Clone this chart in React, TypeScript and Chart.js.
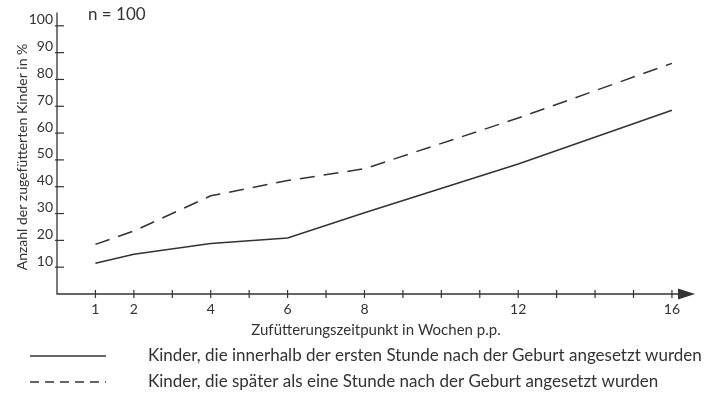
import React, { useEffect, useRef } from 'react';
import { Chart, registerables } from 'chart.js';
Chart.register(...registerables);

const weeks = [1, 2, 4, 6, 8, 12, 16];
const withinFirstHour = [11.5, 14.8, 18.8, 20.9, 30.3, 48.5, 68.5];
const laterThanFirstHour = [18.5, 23.5, 36.6, 42.3, 46.7, 65.6, 86];
const xTickLabels = [1, 2, 4, 6, 8, 12, 16];
const yTickLabels = [10, 20, 30, 40, 50, 60, 70, 80, 90, 100];
const seriesLabels = [
  'Kinder, die innerhalb der ersten Stunde nach der Geburt angesetzt wurden',
  'Kinder, die später als eine Stunde nach der Geburt angesetzt wurden',
];
const xTitle = 'Zufütterungszeitpunkt in Wochen p.p.';
const yTitle = 'Anzahl der zugefütterten Kinder in %';
const sampleNote = 'n = 100';

const INK = '#333333';
const FONT = 'Lato, "Open Sans", sans-serif';

const decorPlugin = {
  id: 'decor',
  afterDraw(chart: any) {
    const ctx = chart.ctx;
    const xs = chart.scales.x;
    const ys = chart.scales.y;
    const area = chart.chartArea;
    ctx.save();
    ctx.strokeStyle = INK;
    ctx.fillStyle = INK;
    ctx.lineWidth = 1.3;
    // axes
    ctx.beginPath();
    ctx.moveTo(area.left, area.top);
    ctx.lineTo(area.left, area.bottom);
    ctx.lineTo(area.right - 14, area.bottom);
    ctx.stroke();
    // arrow head
    ctx.beginPath();
    ctx.moveTo(area.right, area.bottom);
    ctx.lineTo(area.right - 17, area.bottom - 5.5);
    ctx.lineTo(area.right - 17, area.bottom + 5.5);
    ctx.closePath();
    ctx.fill();
    // y tick marks
    ctx.lineWidth = 1.2;
    for (const v of yTickLabels) {
      const py = ys.getPixelForValue(v);
      ctx.beginPath();
      ctx.moveTo(area.left - 2, py);
      ctx.lineTo(area.left + 7, py);
      ctx.stroke();
    }
    // x tick marks
    for (let w = 1; w <= 16; w++) {
      const px = xs.getPixelForValue(w);
      ctx.beginPath();
      ctx.moveTo(px, area.bottom - 4);
      ctx.lineTo(px, area.bottom + 4);
      ctx.stroke();
    }
    // y title
    ctx.font = `14px ${FONT}`;
    ctx.textAlign = 'center';
    ctx.textBaseline = 'middle';
    ctx.save();
    ctx.translate(22, 157);
    ctx.rotate(-Math.PI / 2);
    ctx.fillText(yTitle, 0, 0);
    ctx.restore();
    // n = 100
    ctx.font = `17px ${FONT}`;
    ctx.textAlign = 'left';
    ctx.fillText(sampleNote, 88, 15);
    // legend
    const rows = [356, 382];
    const dashes = [[], [9, 6]];
    rows.forEach((ry, i) => {
      ctx.setLineDash(dashes[i]);
      ctx.lineWidth = 1.3;
      ctx.beginPath();
      ctx.moveTo(30, ry);
      ctx.lineTo(106, ry);
      ctx.stroke();
      ctx.setLineDash([]);
      ctx.font = `17px ${FONT}`;
      ctx.textAlign = 'left';
      ctx.textBaseline = 'middle';
      ctx.fillText(seriesLabels[i], 148, ry);
    });
    ctx.restore();
  },
};

export default function App() {
  const ref = useRef<HTMLCanvasElement>(null);
  useEffect(() => {
    const chart = new Chart(ref.current as HTMLCanvasElement, {
      type: 'line',
      data: {
        datasets: [
          {
            label: seriesLabels[0],
            data: weeks.map((w, i) => ({ x: w, y: withinFirstHour[i] })),
            borderColor: INK,
            borderWidth: 1.5,
            pointRadius: 0,
            tension: 0,
          },
          {
            label: seriesLabels[1],
            data: weeks.map((w, i) => ({ x: w, y: laterThanFirstHour[i] })),
            borderColor: INK,
            borderWidth: 1.5,
            borderDash: [15, 9],
            pointRadius: 0,
            tension: 0,
          },
        ],
      },
      options: {
        animation: false,
        responsive: false,
        layout: { padding: { left: 0, top: 4, right: 17, bottom: 64 } },
        plugins: { legend: { display: false }, tooltip: { enabled: false } },
        scales: {
          x: {
            type: 'linear',
            min: 0,
            max: 16.6,
            grid: { display: false, drawTicks: false },
            border: { display: false },
            afterFit: (s: any) => { s.height = 45; },
            afterBuildTicks: (s: any) => {
              s.ticks = xTickLabels.map((v) => ({ value: v }));
            },
            ticks: {
              color: INK,
              font: { family: FONT, size: 14 },
              padding: 7,
              maxRotation: 0,
              autoSkip: false,
              callback: (v: any) => String(v),
            },
            title: {
              display: true,
              text: xTitle,
              color: INK,
              font: { family: FONT, size: 15 },
              padding: { top: 0, bottom: 0 },
            },
          },
          y: {
            min: 0,
            max: 105,
            grid: { display: false, drawTicks: false },
            border: { display: false },
            afterFit: (s: any) => { s.width = 57; },
            afterBuildTicks: (s: any) => {
              s.ticks = yTickLabels.map((v) => ({ value: v }));
            },
            ticks: {
              color: INK,
              font: { family: FONT, size: 14 },
              padding: 4,
              labelOffset: -6,
              callback: (v: any) => String(v),
            },
          },
        },
      },
      plugins: [decorPlugin],
    } as any);
    return () => chart.destroy();
  }, []);
  return (
    <div style={{ position: 'fixed', left: 0, top: 0, width: 712, height: 403, background: '#fff' }}>
      <canvas ref={ref} width={712} height={403} style={{ display: 'block' }} />
    </div>
  );
}
